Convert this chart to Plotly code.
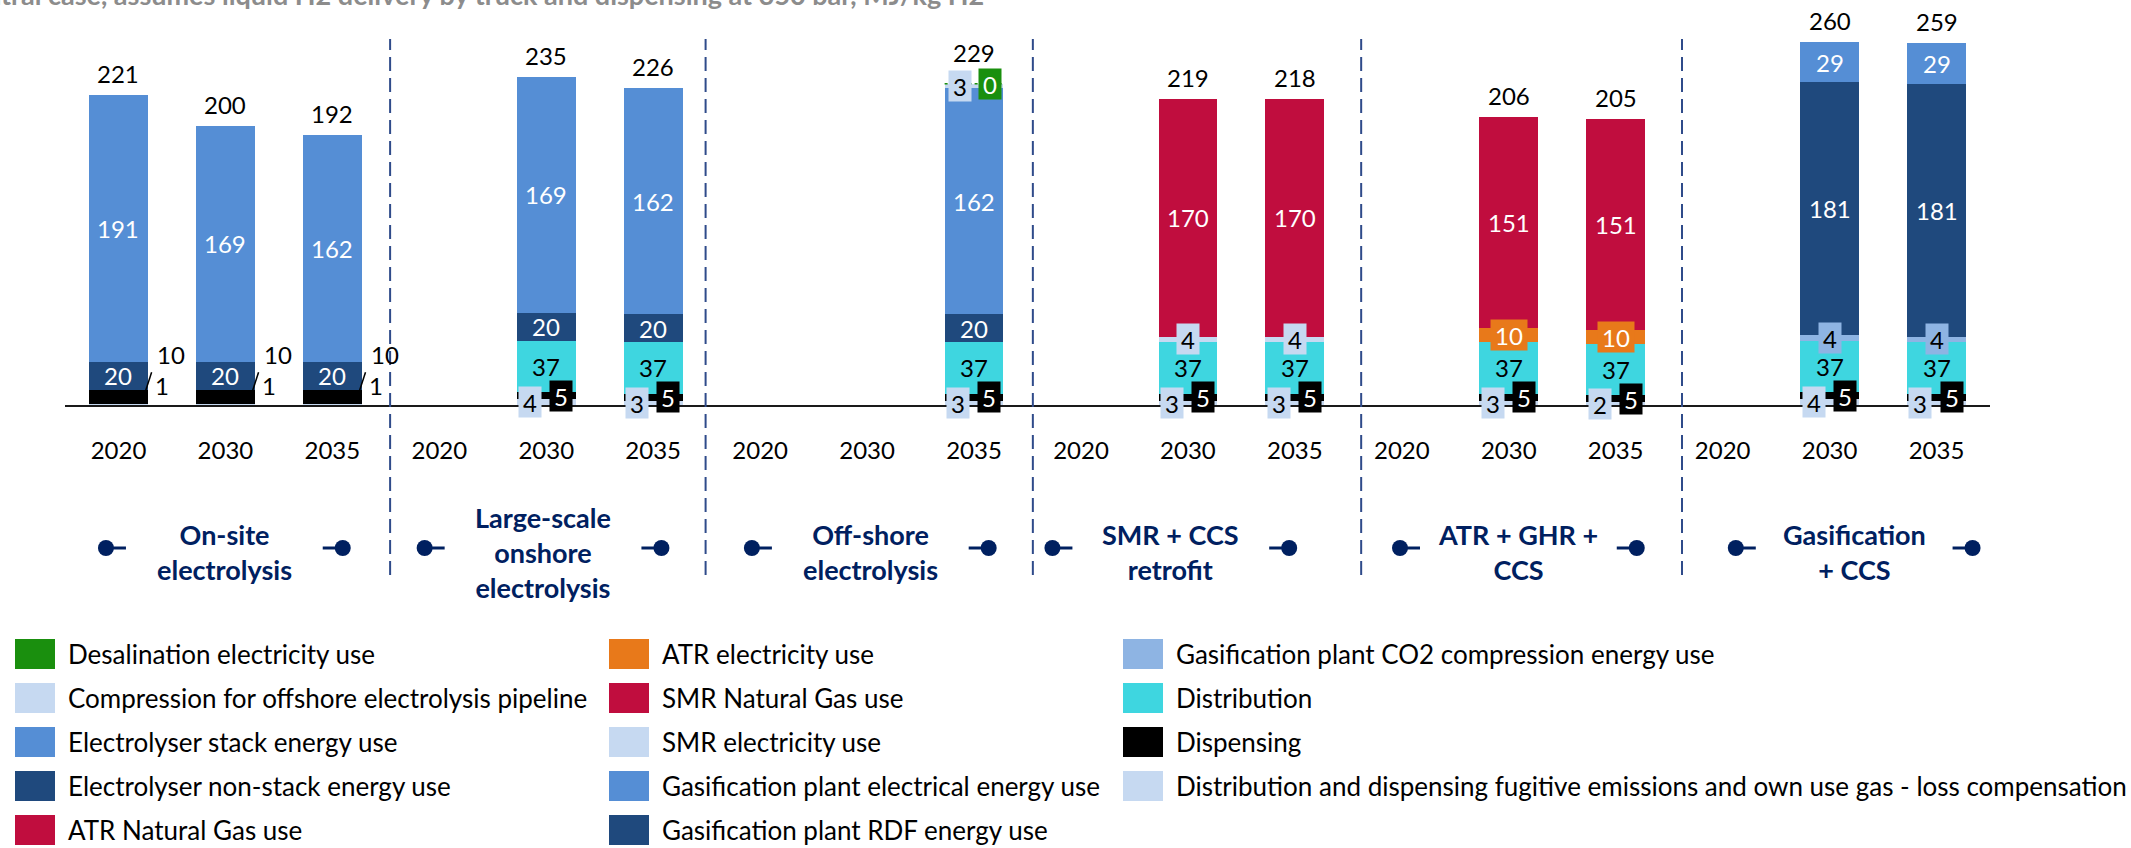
import plotly.graph_objects as go

FONT = "Lato, 'Open Sans', Arial, sans-serif"

# ---- data (MJ/kg H2), 6 pathways x 3 years, None = not available ----
years = ["2020", "2030", "2035"] * 6
groups = ["On-site<br>electrolysis", "Large-scale<br>onshore<br>electrolysis", "Off-shore<br>electrolysis",
          "SMR + CCS<br>retrofit", "ATR + GHR +<br>CCS", "Gasification<br>+ CCS"]
N = None
fugitive = [1, 1, 1, N, 4, 3, N, N, 3, N, 3, 3, N, 3, 2, N, 4, 3]
dispensing = [10, 10, 10, N, 5, 5, N, N, 5, N, 5, 5, N, 5, 5, N, 5, 5]
distribution = [N, N, N, N, 37, 37, N, N, 37, N, 37, 37, N, 37, 37, N, 37, 37]
smr_elec = [N] * 10 + [4, 4] + [N] * 6
atr_elec = [N] * 13 + [10, 10] + [N] * 3
gas_co2 = [N] * 16 + [4, 4]
nonstack = [20, 20, 20, N, 20, 20, N, N, 20] + [N] * 9
smr_ng = [N] * 10 + [170, 170] + [N] * 6
atr_ng = [N] * 13 + [151, 151] + [N] * 3
gas_rdf = [N] * 16 + [181, 181]
stack = [191, 169, 162, N, 169, 162, N, N, 162] + [N] * 9
gas_elec = [N] * 16 + [29, 29]
compression = [N] * 8 + [3] + [N] * 9
desal = [N] * 8 + [0] + [N] * 9
totals = [221, 200, 192, N, 235, 226, N, N, 229, N, 219, 218, N, 206, 205, N, 260, 259]

LIGHT = "#C6D9F1"
BLUE = "#558ED5"
NAVY = "#1F497D"
RED = "#C00D3E"

# stacking order, bottom to top
series = [
    ("fugitive", "Distribution and dispensing fugitive emissions and own use gas - loss compensation", fugitive, LIGHT),
    ("dispensing", "Dispensing", dispensing, "#000000"),
    ("distribution", "Distribution", distribution, "#3ED6E0"),
    ("smr_elec", "SMR electricity use", smr_elec, LIGHT),
    ("atr_elec", "ATR electricity use", atr_elec, "#E8791A"),
    ("gas_co2", "Gasification plant CO2 compression energy use", gas_co2, "#8EB4E3"),
    ("nonstack", "Electrolyser non-stack energy use", nonstack, NAVY),
    ("smr_ng", "SMR Natural Gas use", smr_ng, RED),
    ("atr_ng", "ATR Natural Gas use", atr_ng, RED),
    ("gas_rdf", "Gasification plant RDF energy use", gas_rdf, NAVY),
    ("stack", "Electrolyser stack energy use", stack, BLUE),
    ("gas_elec", "Gasification plant electrical energy use", gas_elec, BLUE),
    ("compression", "Compression for offshore electrolysis pipeline", compression, LIGHT),
    ("desal", "Desalination electricity use", desal, "#1A8F0E"),
]

legend_cols = [
    ["desal", "compression", "stack", "nonstack", "atr_ng"],
    ["atr_elec", "smr_ng", "smr_elec", "gas_elec", "gas_rdf"],
    ["gas_co2", "distribution", "dispensing", "fugitive"],
]

label_style = {
    "fugitive": dict(box=True, dx=-0.15, color="#000"),
    "dispensing": dict(box=True, dx=0.14, color="#fff"),
    "distribution": dict(color="#000"),
    "smr_elec": dict(box=True, color="#000"),
    "atr_elec": dict(box=True, color="#fff", w=36),
    "gas_co2": dict(box=True, color="#000"),
    "nonstack": dict(color="#fff"),
    "smr_ng": dict(color="#fff"),
    "atr_ng": dict(color="#fff"),
    "gas_rdf": dict(color="#fff"),
    "stack": dict(color="#fff"),
    "gas_elec": dict(color="#fff"),
    "compression": dict(box=True, dx=-0.135, color="#000"),
    "desal": dict(box=True, dx=0.145, color="#fff"),
}

# ---- page geometry ----
W, H = 2131, 848
ML, MR, MT, MB = 65, 141, 15, 443
PW, PH = W - ML - MR, H - MT - MB
Y_TOP = PH / 1.397


def px(p):
    return (p - ML) / PW


def py(p):
    return (H - MB - p) / PH


xs = list(range(len(years)))
fig = go.Figure()
annotations = []
shapes = []
base = [0.0] * len(xs)

for key, name, vals, color in series:
    fig.add_trace(go.Bar(x=xs, y=vals, name=name, marker=dict(color=color, line=dict(width=0)),
                         width=0.55, showlegend=False))
    st = label_style[key]
    for i, v in enumerate(vals):
        if v is None:
            continue
        mid = base[i] + v / 2
        if i < 3 and key == "fugitive":
            shapes.append(dict(type="line", xref="x", yref="y", x0=i + 0.215, y0=1, x1=i + 0.31, y1=23.5,
                               line=dict(color="#000", width=1.5)))
            annotations.append(dict(x=i + 0.41, y=0, yshift=20, text=str(v), showarrow=False,
                                    font=dict(size=24, color="#000")))
        elif i < 3 and key == "dispensing":
            annotations.append(dict(x=i + 0.49, y=0, yshift=51, text=str(v), showarrow=False,
                                    font=dict(size=24, color="#000")))
        elif st.get("box"):
            annotations.append(dict(x=i + st.get("dx", 0), y=mid, text=str(v), showarrow=False,
                                    bgcolor=color, width=st.get("w", 22), height=30, borderpad=0,
                                    font=dict(size=24, color=st["color"])))
        else:
            annotations.append(dict(x=i, y=mid, text=str(v), showarrow=False,
                                    font=dict(size=24, color=st["color"])))
        if v == 0:
            shapes.append(dict(type="line", xref="x", yref="y", x0=i - 0.275, x1=i + 0.275,
                               y0=base[i], y1=base[i], line=dict(color=color, width=1.5, dash="dot")))
        base[i] += v

# totals above bars
for i, t in enumerate(totals):
    if t is None:
        continue
    lift = 15 if compression[i] is not None else 5
    annotations.append(dict(x=i, y=base[i], yanchor="bottom", yshift=lift, text=str(t), showarrow=False,
                            font=dict(size=24, color="#000")))

# group separators and group labels
DIV_COLOR = "#2F4B8A"
GROUP_COLOR = "#002060"
dividers = [2.54, 5.49, 8.55, 11.62, 14.62]
for d in dividers:
    shapes.append(dict(type="line", xref="x", yref="paper", x0=d, x1=d, y0=py(575), y1=py(39),
                       line=dict(color=DIV_COLOR, width=2, dash="14px,7px")))

group_centers = [0.99, 3.97, 7.03, 9.84, 13.09, 16.23]
y_grp = py(548)
for g, gc in zip(groups, group_centers):
    annotations.append(dict(x=gc, y=py(552), xref="x", yref="paper", yanchor="middle", text=g,
                            showarrow=False, align="center",
                            font=dict(size=27, color=GROUP_COLOR, weight="bold")))
    for side in (-1, 1):
        cx = gc + side * 1.107
        shapes.append(dict(type="line", xref="x", yref="paper", xsizemode="pixel", xanchor=cx,
                           x0=0, x1=-side * 20, y0=y_grp, y1=y_grp,
                           line=dict(color=GROUP_COLOR, width=3)))
        shapes.append(dict(type="circle", xref="x", yref="paper", xsizemode="pixel", xanchor=cx,
                           x0=-8, x1=8, ysizemode="pixel", yanchor=y_grp, y0=-8, y1=8,
                           fillcolor=GROUP_COLOR, line=dict(width=0)))

# legend (three columns, column-first)
lookup = {k: (n, c) for k, n, v, c in series}
col_x = [15, 609, 1123]
row_y = [654, 698, 742, 786, 830]
for cx, keys in zip(col_x, legend_cols):
    for ry, k in zip(row_y, keys):
        name, color = lookup[k]
        shapes.append(dict(type="rect", xref="paper", yref="paper", x0=px(cx), x1=px(cx + 40),
                           y0=py(ry + 15), y1=py(ry - 15), fillcolor=color, line=dict(width=0)))
        annotations.append(dict(x=px(cx + 51), y=py(ry), xref="paper", yref="paper", xanchor="left",
                                yanchor="middle", text=name, showarrow=False,
                                font=dict(size=26, color="#000")))

# title, cut off at the top of the page
annotations.append(dict(x=px(986), y=py(-5), xref="paper", yref="paper", xanchor="right", yanchor="middle",
                        text="Central case, assumes liquid H2 delivery by truck and dispensing at 350 bar, MJ/kg H2",
                        showarrow=False, font=dict(size=27, color="#8C8C8C", weight="bold")))

fig.update_layout(
    barmode="stack",
    width=W, height=H,
    margin=dict(l=ML, r=MR, t=MT, b=MB),
    paper_bgcolor="white", plot_bgcolor="white",
    font=dict(family=FONT, color="#000"),
    annotations=annotations,
    shapes=shapes,
    showlegend=False,
    xaxis=dict(range=[-0.5, len(xs) - 0.5], tickvals=xs, ticktext=years, tickfont=dict(size=24, color="#000"),
               showgrid=False, zeroline=False, showline=True, linecolor="#1A1A1A", linewidth=2,
               ticks="", ticklabelstandoff=23, fixedrange=True),
    yaxis=dict(range=[0, Y_TOP], visible=False, fixedrange=True),
)

fig.write_html("out.html", config={"displayModeBar": False},
               post_script="document.body.style.margin='0';document.body.style.overflow='hidden';")
